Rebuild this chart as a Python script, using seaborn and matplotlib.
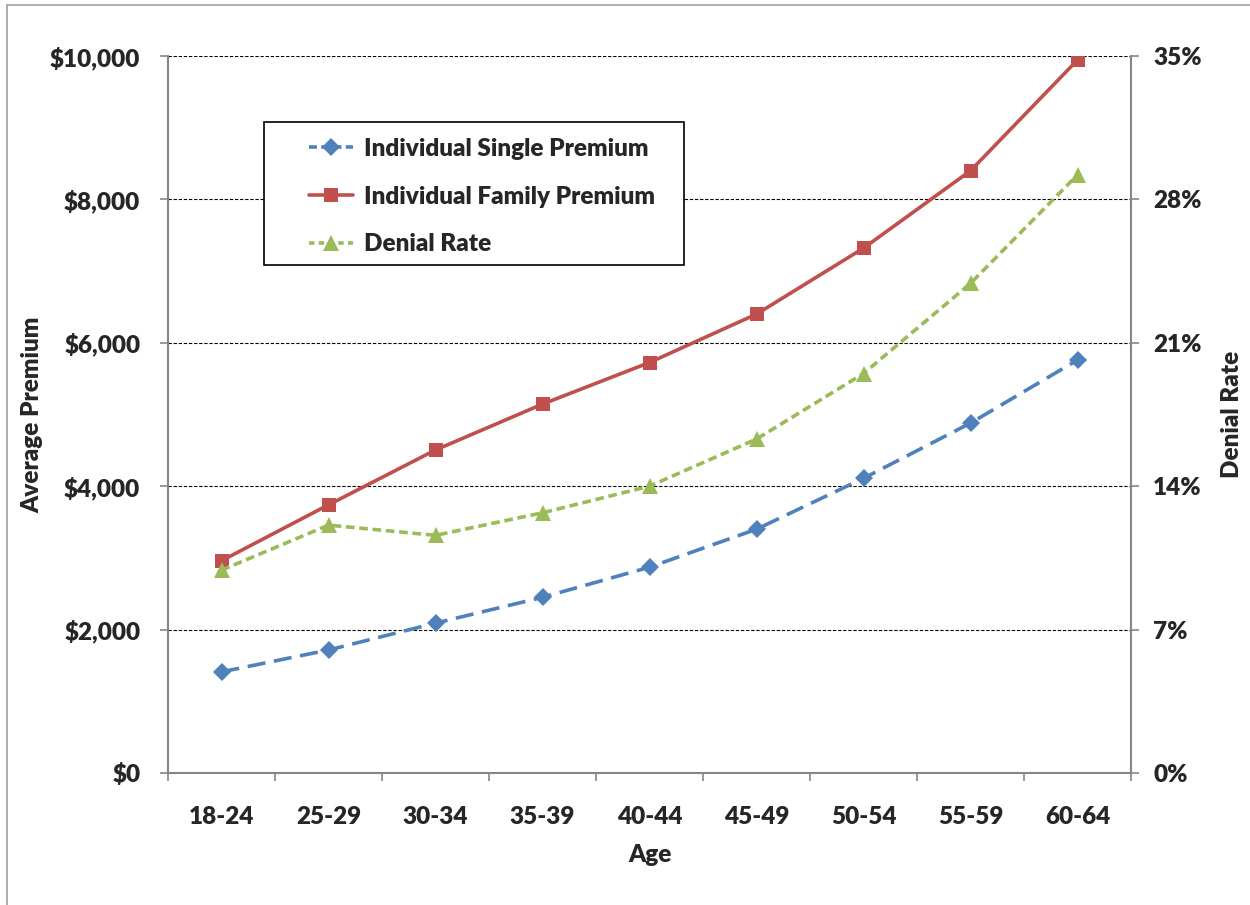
import matplotlib
matplotlib.use("Agg")
import matplotlib.pyplot as plt
from matplotlib.lines import Line2D
from matplotlib.patches import Rectangle
from matplotlib.ticker import FuncFormatter, FixedLocator
import seaborn as sns
import pandas as pd

# Age bands and series values
ages = ["18-24", "25-29", "30-34", "35-39", "40-44", "45-49", "50-54", "55-59", "60-64"]
single_premium = [1410, 1715, 2090, 2450, 2870, 3400, 4110, 4880, 5760]
family_premium = [2960, 3740, 4505, 5145, 5725, 6400, 7320, 8400, 9945]
denial_rate = [9.9, 12.1, 11.6, 12.7, 14.0, 16.3, 19.5, 23.9, 29.2]

premium_ticks = [0, 2000, 4000, 6000, 8000, 10000]
rate_ticks = [0, 7, 14, 21, 28, 35]

sns.set_theme(style="white")
plt.rcParams["font.family"] = ["Lato", "DejaVu Sans"]
WEIGHT = "heavy"
FS = 17.5
plt.rcParams["font.weight"] = WEIGHT

BLUE = "#4F81BD"
RED = "#C0504D"
GREEN = "#9BBB59"
AXIS_GREY = "#868686"
LW = 2.6

df = pd.DataFrame({
    "Age": ages,
    "Single": single_premium,
    "Family": family_premium,
    "Denial": denial_rate,
})

fig = plt.figure(figsize=(12.5, 9.05), dpi=100)
ax = fig.add_axes([0.1344, 0.1459, 0.7704, 0.7922])
ax2 = ax.twinx()

sns.lineplot(data=df, x="Age", y="Single", ax=ax, color=BLUE, lw=LW,
             marker="D", markersize=9, markeredgewidth=0, sort=False, zorder=3)
ax.lines[-1].set_dashes([5.0, 2.4])
sns.lineplot(data=df, x="Age", y="Family", ax=ax, color=RED, lw=LW,
             marker="s", markersize=10, markeredgewidth=0, sort=False, zorder=3)
sns.lineplot(data=df, x="Age", y="Denial", ax=ax2, color=GREEN, lw=LW,
             marker="^", markersize=11, markeredgewidth=0, sort=False, zorder=3)
ax2.lines[-1].set_dashes([2.4, 1.3])

n = len(ages)
for a in (ax, ax2):
    a.set_xlim(-0.5, n - 0.5)
    a.set_facecolor("none")
ax.set_ylim(0, 10000)
ax2.set_ylim(0, 35)

# horizontal dashed gridlines on premium ticks
for v in premium_ticks[1:]:
    ax.axhline(v, color="black", lw=0.8, ls=(0, (3, 1.6)), zorder=1)

ax.set_yticks(premium_ticks)
ax.yaxis.set_major_formatter(FuncFormatter(lambda v, p: f"${v:,.0f}"))
ax2.set_yticks(rate_ticks)
ax2.yaxis.set_major_formatter(FuncFormatter(lambda v, p: f"{v:.0f}%"))

ax.set_xticks(range(n))
ax.set_xticklabels(ages)
ax.xaxis.set_minor_locator(FixedLocator([i - 0.5 for i in range(n + 1)]))

for a in (ax, ax2):
    for s in a.spines.values():
        s.set_color(AXIS_GREY)
        s.set_linewidth(1.5)
    a.spines["top"].set_visible(False)
    a.grid(False)

ax2.spines["left"].set_visible(False)
ax2.spines["bottom"].set_visible(False)
ax.spines["right"].set_visible(False)

ax.tick_params(axis="x", which="major", length=0, pad=24, labelsize=FS)
ax.tick_params(axis="x", which="minor", length=6, width=1.2, color=AXIS_GREY,
               direction="out", bottom=True)
ax.tick_params(axis="y", length=6, width=1.2, color=AXIS_GREY, direction="out",
               left=True, pad=14, labelsize=FS)
ax2.tick_params(axis="y", length=6, width=1.2, color=AXIS_GREY, direction="out",
                right=True, pad=10, labelsize=FS)
for lbl in ax.get_xticklabels() + ax.get_yticklabels() + ax2.get_yticklabels():
    lbl.set_fontweight(WEIGHT)

ax.set_xlabel("Age", fontsize=FS, fontweight=WEIGHT, labelpad=11)
ax.set_ylabel("Average Premium", fontsize=FS, fontweight=WEIGHT, labelpad=5)
ax2.set_ylabel("Denial Rate", fontsize=FS, fontweight=WEIGHT, labelpad=14,
               rotation=90)

# legend box drawn as its own rectangle, entries placed inside it
ax2.add_patch(Rectangle((0.0997, 0.7085), 0.5358 - 0.0997, 0.908 - 0.7085,
                        transform=ax2.transAxes, facecolor="white",
                        edgecolor="black", lw=1.2, zorder=5))
handles = [
    Line2D([], [], color=BLUE, lw=LW, dashes=[2.2, 1.2], marker="D",
           markersize=9, markeredgewidth=0),
    Line2D([], [], color=RED, lw=LW, marker="s", markersize=10,
           markeredgewidth=0),
    Line2D([], [], color=GREEN, lw=LW, dashes=[1.5, 1.2], marker="^",
           markersize=11, markeredgewidth=0),
]
labels = ["Individual Single Premium", "Individual Family Premium", "Denial Rate"]
leg = ax2.legend(handles, labels, loc="upper left", bbox_to_anchor=(0.1464, 0.886),
                 borderaxespad=0, borderpad=0, frameon=False,
                 handlelength=1.8, labelspacing=1.06, handletextpad=0.45,
                 prop={"weight": WEIGHT, "size": FS})
leg.set_zorder(6)

# thin grey outer frame of the chart area
fig.add_artist(Line2D([7 / 1250, 7 / 1250], [0, 1 - 5 / 905], color="#A0A0A0",
                      lw=1.2, transform=fig.transFigure))
fig.add_artist(Line2D([7 / 1250, 1], [1 - 5 / 905, 1 - 5 / 905], color="#A0A0A0",
                      lw=1.2, transform=fig.transFigure))

fig.savefig("out.png", dpi=100, facecolor="white")
